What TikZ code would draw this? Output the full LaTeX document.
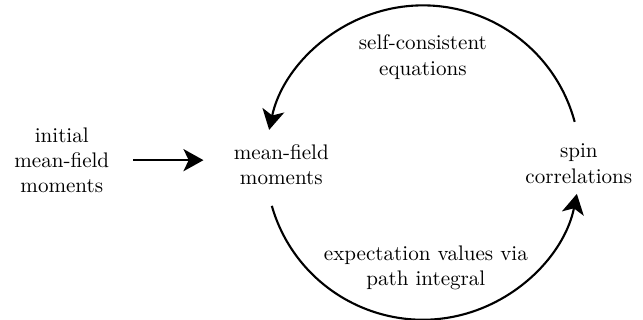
\documentclass[tikz,border=0pt]{standalone}
\usepackage{tikz}
\usetikzlibrary{arrows.meta,positioning,calc}

\begin{document}
\begin{tikzpicture}[
    lbl/.style={align=center,inner sep=0pt},
    flow/.style={line width=1pt,-{Stealth[length=9.5pt,width=10.5pt,inset=2.5pt]}}]
    \useasboundingbox (0,0) rectangle (10.72,5.33);
    % the quantities
    \node[lbl] (init) at (1.03,2.66) {initial\\mean-field\\moments};
    \node[lbl] (mf) at (4.69,2.58) {mean-field\\moments};
    \node[lbl] (spin) at (9.65,2.60) {spin\\correlations};
    % start of the loop
    \draw[flow,shorten <=0.39cm,shorten >=0.5cm] (init.east) -- (init.east -| mf.west);
    % the self-consistent loop
    \coordinate (c) at (7.05,2.62);
    \coordinate (a1) at ($(c)+(15:2.62)$);
    \coordinate (a2) at ($(c)+(196:2.62)$);
    \draw[flow] (a1) arc[start angle=15,end angle=168,radius=2.62];
    \draw[flow] (a2) arc[start angle=196,end angle=348.5,radius=2.62];
    \node[lbl] (sce) at (7.05,4.38) {self-consistent\\equations};
    \node[lbl] (evpi) at (7.10,0.87) {expectation values via\\path integral};
\end{tikzpicture}
\end{document}
